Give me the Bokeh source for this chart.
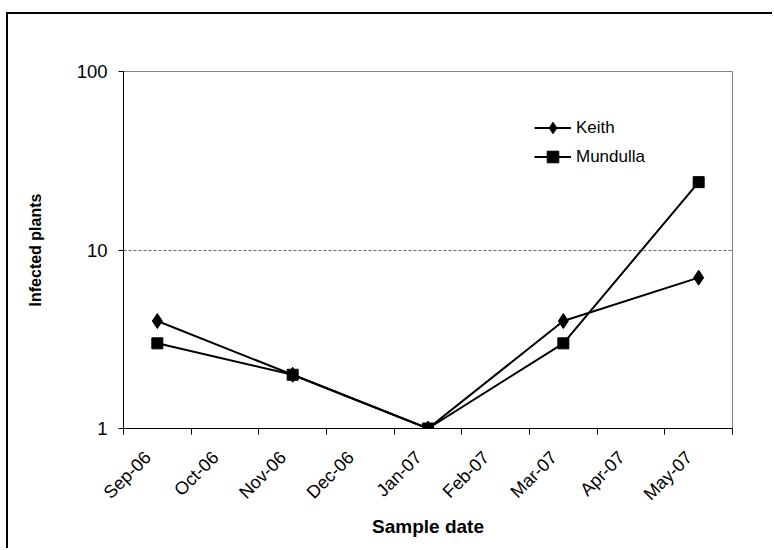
import math
from bokeh.plotting import figure
from bokeh.models import (Range1d, FixedTicker, CustomJSTickFormatter, ColumnDataSource,
                          NumeralTickFormatter, Legend)
from bokeh.embed import file_html
from bokeh.resources import INLINE

# ---- data ----
months = ["Sep-06", "Oct-06", "Nov-06", "Dec-06", "Jan-07",
          "Feb-07", "Mar-07", "Apr-07", "May-07"]
sample_months = ["Sep-06", "Nov-06", "Jan-07", "Mar-07", "May-07"]
keith = [4, 2, 1, 4, 7]
mundulla = [3, 2, 1, 3, 24]
y_ticks = [1, 10, 100]

FONT = "Liberation Sans"

xpos = [months.index(m) + 0.5 for m in sample_months]
src_k = ColumnDataSource(dict(x=xpos, y=keith, m=sample_months))
src_m = ColumnDataSource(dict(x=xpos, y=mundulla, m=sample_months))

p = figure(width=766, height=536, y_axis_type="log",
           x_range=Range1d(0, len(months)), y_range=Range1d(y_ticks[0], y_ticks[-1]),
           output_backend="svg", toolbar_location=None,
           min_border_left=115, min_border_right=42,
           min_border_top=57, min_border_bottom=122)
p.margin = (12, 0, 0, 6)
p.styles = {"border-top": "2px solid #000000", "border-left": "2px solid #000000"}

p.background_fill_color = "white"
p.border_fill_color = "white"
p.outline_line_color = "#808080"
p.outline_line_width = 1

# y axis
p.yaxis.ticker = FixedTicker(ticks=y_ticks)
p.yaxis.formatter = NumeralTickFormatter(format="0")
p.yaxis.minor_tick_line_color = None
p.yaxis.major_tick_out = 5
p.yaxis.major_tick_in = 0
p.yaxis.axis_line_color = "black"
p.yaxis.major_tick_line_color = "black"
p.yaxis.major_label_text_font = FONT
p.yaxis.major_label_text_font_size = "18.5px"
p.yaxis.major_label_text_color = "black"
p.yaxis.major_label_standoff = 11
p.yaxis.axis_label = "Infected plants"
p.yaxis.axis_label_text_font = FONT
p.yaxis.axis_label_text_font_style = "bold"
p.yaxis.axis_label_text_font_size = "16px"
p.yaxis.axis_label_text_color = "black"
p.yaxis.axis_label_standoff = 30

# x axis (labels sit in the middle of each month slot, ticks on slot edges)
p.xaxis.ticker = FixedTicker(ticks=[i + 0.36 for i in range(len(months))],
                             minor_ticks=list(range(len(months) + 1)))
p.xaxis.formatter = CustomJSTickFormatter(args=dict(labels=months),
                                          code="return labels[Math.floor(tick)] || '';")
p.xaxis.major_tick_line_color = None
p.xaxis.major_tick_out = 0
p.xaxis.major_tick_in = 0
p.xaxis.minor_tick_line_color = "black"
p.xaxis.minor_tick_out = 6
p.xaxis.minor_tick_in = 0
p.xaxis.axis_line_color = "black"
p.xaxis.major_label_orientation = math.pi / 4
p.xaxis.major_label_text_font = FONT
p.xaxis.major_label_text_font_size = "18px"
p.xaxis.major_label_text_color = "black"
p.xaxis.major_label_standoff = 20
p.xaxis.axis_label = "Sample date"
p.xaxis.axis_label_text_font = FONT
p.xaxis.axis_label_text_font_style = "bold"
p.xaxis.axis_label_text_font_size = "19px"
p.xaxis.axis_label_text_color = "black"
p.xaxis.axis_label_standoff = 2

# grid
p.xgrid.grid_line_color = None
p.ygrid.ticker = FixedTicker(ticks=y_ticks)
p.ygrid.grid_line_color = "#666666"
p.ygrid.grid_line_dash = "3 2"
p.ygrid.grid_line_width = 1

# series
lk = p.line("x", "y", source=src_k, line_color="black", line_width=2)
sk = p.scatter("x", "y", source=src_k, marker="diamond", size=15,
               fill_color="black", line_color="black")
lm = p.line("x", "y", source=src_m, line_color="black", line_width=2)
sm = p.scatter("x", "y", source=src_m, marker="square", size=11,
               fill_color="black", line_color="black")

legend = Legend(items=[("Keith", [lk, sk]), ("Mundulla", [lm, sm])],
                location=(411, 257), orientation="vertical")
legend.background_fill_alpha = 0
legend.border_line_color = None
legend.padding = 0
legend.margin = 0
legend.spacing = 0
legend.glyph_width = 37
legend.glyph_height = 29
legend.label_height = 29
legend.label_standoff = 5
legend.label_text_font = FONT
legend.label_text_font_size = "17px"
legend.label_text_color = "black"
p.add_layout(legend, "center")

open("out.html", "w").write(file_html(p, INLINE))
